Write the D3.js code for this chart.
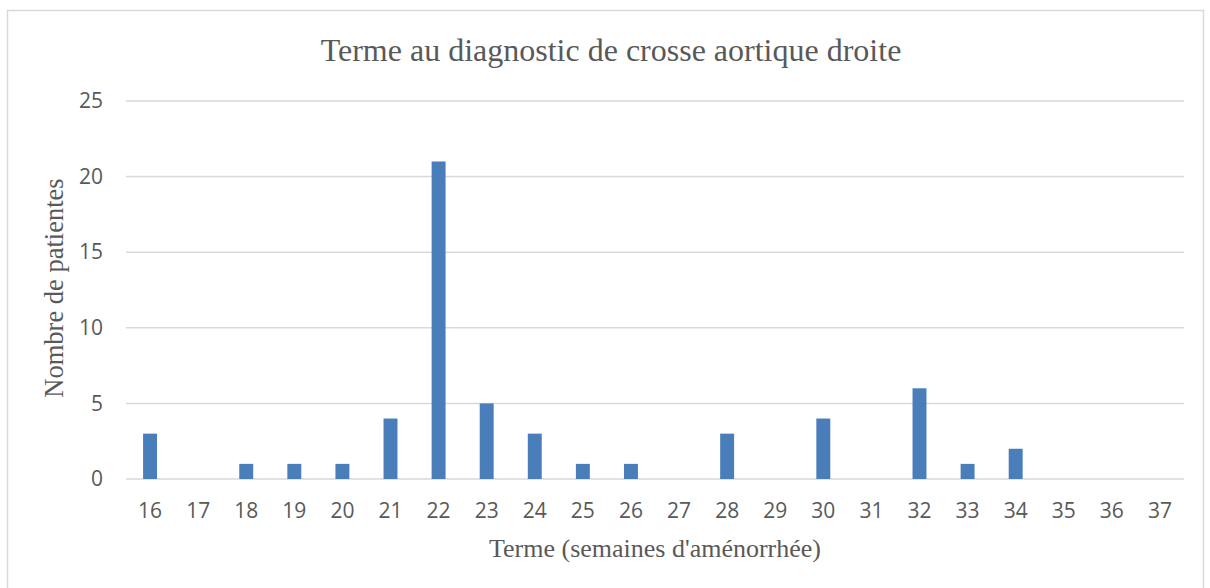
<!DOCTYPE html>
<html>
<head>
<meta charset="utf-8">
<script src="https://cdn.jsdelivr.net/npm/d3@7"></script>
<style>
  body { margin: 0; background: #fff; }
</style>
</head>
<body>
<svg id="chart" width="1210" height="588"></svg>
<script>
// data
var weeks = ["16","17","18","19","20","21","22","23","24","25","26","27","28","29","30","31","32","33","34","35","36","37"];
var patients = [3,0,1,1,1,4,21,5,3,1,1,0,3,0,4,0,6,1,2,0,0,0];
var yTicks = [0,5,10,15,20,25];

var width = 1210;
var height = 588;
var margin = {top: 101, right: 26, bottom: 109, left: 126};

var svg = d3.select("#chart");

// outer frame
svg.append("rect")
  .attr("x", 7.5).attr("y", 10.5)
  .attr("width", 1196).attr("height", 600)
  .attr("fill", "#fff").attr("stroke", "#d9d9d9").attr("stroke-width", 1.5);

var x = d3.scaleBand()
  .domain(weeks)
  .range([margin.left, width - margin.right])
  .paddingInner(0.71).paddingOuter(0.355);

var y = d3.scaleLinear()
  .domain([0, 25])
  .range([height - margin.bottom, margin.top]);

// gridlines
svg.append("g")
  .selectAll("line")
  .data(yTicks)
  .join("line")
  .attr("x1", margin.left).attr("x2", width - margin.right)
  .attr("y1", d => y(d)).attr("y2", d => y(d))
  .attr("stroke", "#d9d9d9").attr("stroke-width", 1.5);

// bars
svg.append("g")
  .selectAll("rect")
  .data(weeks.map((w, i) => ({week: w, n: patients[i]})))
  .join("rect")
  .attr("x", d => x(d.week))
  .attr("width", x.bandwidth())
  .attr("y", d => y(d.n))
  .attr("height", d => y(0) - y(d.n))
  .attr("fill", "#4a7ebb");

// y axis
var yAxis = svg.append("g")
  .attr("transform", "translate(" + (margin.left - 10) + ",0)")
  .call(d3.axisLeft(y).tickValues(yTicks).tickSize(0).tickPadding(13));
yAxis.select(".domain").remove();
yAxis.selectAll("text")
  .attr("fill", "#595959")
  .style("font-family", "'Open Sans', 'Liberation Sans', sans-serif")
  .style("font-size", "21px");

// x axis
var xAxis = svg.append("g")
  .attr("transform", "translate(0," + (height - margin.bottom) + ")")
  .call(d3.axisBottom(x).tickSize(0).tickPadding(24));
xAxis.select(".domain").remove();
xAxis.selectAll("text")
  .attr("fill", "#595959")
  .style("font-family", "'Open Sans', 'Liberation Sans', sans-serif")
  .style("font-size", "21px");

// titles
svg.append("text")
  .attr("x", 611).attr("y", 61)
  .attr("text-anchor", "middle")
  .attr("fill", "#595959")
  .style("font-family", "'Liberation Serif', 'Times New Roman', serif")
  .style("font-size", "32px")
  .text("Terme au diagnostic de crosse aortique droite");

svg.append("text")
  .attr("x", (margin.left + width - margin.right) / 2).attr("y", 557)
  .attr("text-anchor", "middle")
  .attr("fill", "#595959")
  .style("font-family", "'Liberation Serif', 'Times New Roman', serif")
  .style("font-size", "26px")
  .text("Terme (semaines d'aménorrhée)");

svg.append("text")
  .attr("transform", "translate(63," + 288 + ") rotate(-90)")
  .attr("text-anchor", "middle")
  .attr("fill", "#595959")
  .style("font-family", "'Liberation Serif', 'Times New Roman', serif")
  .style("font-size", "26.5px")
  .text("Nombre de patientes");
</script>
</body>
</html>
